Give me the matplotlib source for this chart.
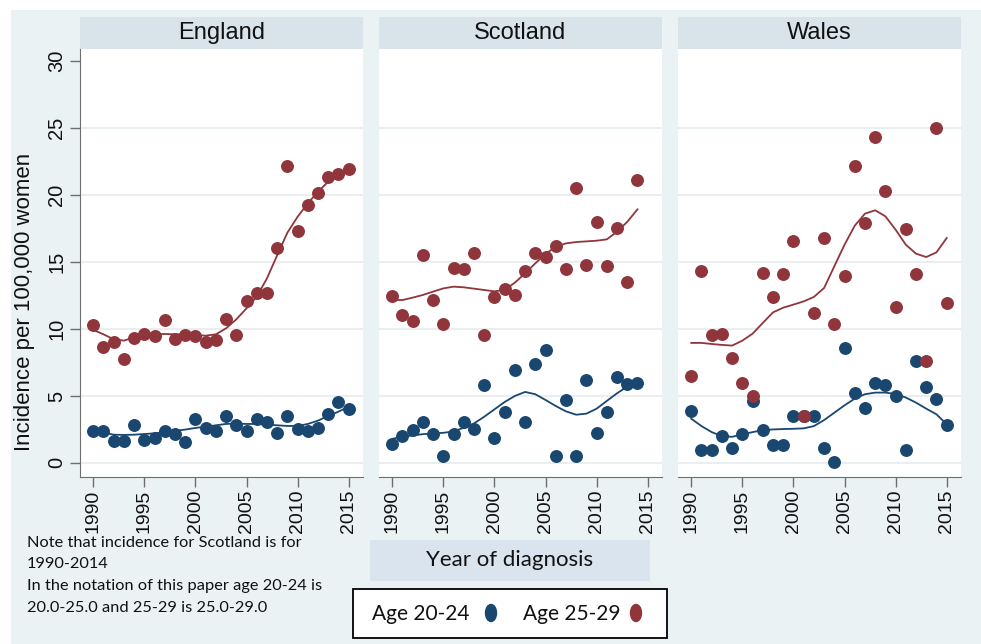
import matplotlib
matplotlib.use('Agg')
import matplotlib.pyplot as plt
from matplotlib.patches import Rectangle, Ellipse

plt.rcParams['font.family'] = ['Liberation Sans', 'DejaVu Sans']

years = list(range(1990, 2016))
years_scot = list(range(1990, 2015))

# incidence per 100,000, age 20-24 and 25-29, with smoothed trend
eng_2024 = [2.39, 2.39, 1.64, 1.64, 2.86, 1.69, 1.87, 2.39, 2.14, 1.57, 3.29, 2.61, 2.39,
            3.54, 2.86, 2.36, 3.29, 3.04, 2.24, 3.54, 2.54, 2.36, 2.64, 3.68, 4.56, 4.06]
eng_2529 = [10.28, 8.66, 9.04, 7.74, 9.36, 9.66, 9.46, 10.65, 9.24, 9.56, 9.46, 9.04, 9.14,
            10.78, 9.56, 12.07, 12.67, 12.67, 16.06, 22.18, 17.35, 19.29, 20.14, 21.38, 21.56, 21.96]
eng_2024_fit = [2.41, 2.26, 2.11, 2.09, 2.11, 2.16, 2.21, 2.29, 2.39, 2.49, 2.61, 2.71, 2.81,
                2.91, 2.94, 2.91, 2.91, 2.86, 2.81, 2.76, 2.76, 2.91, 3.16, 3.51, 3.83, 4.2]
eng_2529_fit = [9.93, 9.6, 9.23, 9.13, 9.38, 9.53, 9.6, 9.63, 9.6, 9.6, 9.55, 9.5, 9.6,
                10.05, 10.72, 11.54, 12.41, 13.78, 15.5, 17.19, 18.38, 19.38, 20.25, 21.0, 21.42, 21.9]

scot_2024 = [1.45, 2.02, 2.49, 3.07, 2.14, 0.55, 2.19, 3.07, 2.57, 5.79, 1.85, 3.77, 6.91,
             3.07, 7.41, 8.45, 0.55, 4.69, 0.55, 6.18, 2.24, 3.77, 6.41, 5.91, 5.93]
scot_2529 = [12.45, 11.08, 10.58, 15.49, 12.2, 10.36, 14.54, 14.51, 15.69, 9.58, 12.4, 12.97, 12.5,
             14.34, 15.69, 15.36, 16.16, 14.44, 20.56, 14.76, 18.0, 14.71, 17.53, 13.49, 21.14]
scot_2024_fit = [1.8, 1.95, 2.05, 2.15, 2.2, 2.25, 2.35, 2.63, 2.95, 3.45, 4.0, 4.55, 5.0,
                 5.3, 5.13, 4.7, 4.25, 3.85, 3.6, 3.68, 4.05, 4.63, 5.2, 5.7, 6.05]
scot_2529_fit = [12.16, 12.16, 12.34, 12.54, 12.79, 13.03, 13.16, 13.11, 13.01, 12.91, 12.81, 12.91, 13.46,
                 14.15, 14.9, 15.6, 16.14, 16.39, 16.49, 16.54, 16.59, 16.69, 17.26, 18.0, 18.93]

wal_2024 = [3.88, 1.0, 1.0, 2.04, 1.09, 2.19, 4.63, 2.44, 1.34, 1.34, 3.51, 3.5, 3.48,
            1.14, 0.05, 8.61, 5.22, 4.1, 5.97, 5.85, 4.98, 0.95, 7.61, 5.7, 4.75, 2.84]
wal_2529 = [6.52, 14.3, 9.53, 9.63, 7.81, 5.97, 5.02, 14.18, 12.41, 14.1, 16.54, 3.53, 11.17,
            16.77, 10.37, 13.98, 22.16, 17.91, 24.35, 20.32, 11.62, 17.44, 14.13, 7.59, 25.0, 11.97]
wal_2024_fit = [3.3, 2.75, 2.3, 2.0, 1.95, 2.13, 2.3, 2.45, 2.5, 2.53, 2.55, 2.58, 2.75,
                3.2, 3.75, 4.3, 4.8, 5.13, 5.25, 5.25, 5.15, 4.88, 4.5, 4.05, 3.63, 2.88]
wal_2529_fit = [8.96, 8.96, 8.88, 8.81, 8.76, 9.13, 9.65, 10.45, 11.24, 11.59, 11.82, 12.06, 12.39,
                13.06, 14.68, 16.29, 17.71, 18.61, 18.86, 18.41, 17.41, 16.29, 15.62, 15.37, 15.72, 16.79]

countries = ['England', 'Scotland', 'Wales']
navy = '#1a476f'
maroon = '#90353b'

W, H = 981, 644
fig = plt.figure(figsize=(W / 100, H / 100), dpi=100)

# background layer in pixel coordinates
bg = fig.add_axes([0, 0, 1, 1])
bg.set_xlim(0, W)
bg.set_ylim(H, 0)
bg.axis('off')
bg.add_patch(Rectangle((11, 10), W - 11, H - 10, color='#eaf2f3', lw=0))

panel_left = [80, 379, 678]
panel_w = 283
top, bottom = 49, 477

series = [
    (years, eng_2024, eng_2529, eng_2024_fit, eng_2529_fit),
    (years_scot, scot_2024, scot_2529, scot_2024_fit, scot_2529_fit),
    (years, wal_2024, wal_2529, wal_2024_fit, wal_2529_fit),
]

for i, (name, x0, s) in enumerate(zip(countries, panel_left, series)):
    yr, v1, v2, f1, f2 = s
    bg.add_patch(Rectangle((x0, 17), panel_w, top - 17, color='#d9e4ea', lw=0))
    bg.text(x0 + panel_w / 2, 33, name, ha='center', va='center', fontsize=17, color='#111111')

    ax = fig.add_axes([x0 / W, 1 - bottom / H, panel_w / W, (bottom - top) / H])
    ax.set_facecolor('white')
    for g in range(0, 30, 5):
        ax.axhline(g, color='#e9eef1', lw=1.5, zorder=0)
    ax.plot(yr, v1, 'o', ms=8.3, color=navy, zorder=2)
    ax.plot(yr, v2, 'o', ms=8.3, color=maroon, zorder=3)
    ax.plot(yr, f1, '-', lw=1.3, color=navy, zorder=4)
    ax.plot(yr, f2, '-', lw=1.3, color=maroon, zorder=4)

    ax.set_xlim(1988.7, 2016.4)
    ax.set_ylim(-1.05, 30.9)
    ax.set_xticks(range(1990, 2016, 5))
    ax.tick_params(axis='x', length=7, width=1, color='#6e6e6e', pad=2,
                   labelsize=14, labelrotation=90, labelcolor='#111111')
    for sp in ['top', 'right']:
        ax.spines[sp].set_visible(False)
    ax.spines['bottom'].set_color('#6e6e6e')
    if i == 0:
        ax.spines['left'].set_color('#6e6e6e')
        ax.set_yticks(range(0, 31, 5))
        ax.tick_params(axis='y', length=7, width=1, color='#6e6e6e', pad=3,
                       labelsize=14.5, labelrotation=90, labelcolor='#111111')
        for lbl in ax.get_yticklabels():
            lbl.set_va('center')
    else:
        ax.spines['left'].set_visible(False)
        ax.set_yticks([])

fig.text(25 / W, 1 - 302 / H, 'Incidence per 100,000 women', rotation=90,
         ha='center', va='center', fontsize=16, color='#111111')

# x title box
bg.add_patch(Rectangle((370, 540), 280, 41, color='#dae4ef', lw=0))
bg.text(510, 560, 'Year of diagnosis', ha='center', va='center', fontsize=16,
        family='Lato', color='#111111')

# legend
bg.add_patch(Rectangle((353, 589), 314, 49, fc='white', ec='black', lw=1.3))
bg.text(372, 614, 'Age 20-24', ha='left', va='center', fontsize=15, family='Lato', color='#111111')
bg.add_patch(Ellipse((491, 613), 11, 17, color=navy))
bg.text(523, 614, 'Age 25-29', ha='left', va='center', fontsize=15, family='Lato', color='#111111')
bg.add_patch(Ellipse((636, 613), 11, 17, color=maroon))

notes = ['Note that incidence for Scotland is for',
         '1990-2014',
         'In the notation of this paper age 20-24 is',
         '20.0-25.0 and 25-29 is 25.0-29.0']
for k, line in enumerate(notes):
    bg.text(27, 543 + k * 21.5, line, ha='left', va='center', fontsize=11.8,
            family='Lato', color='#111111')

fig.savefig('out.png', dpi=100, facecolor='white')
